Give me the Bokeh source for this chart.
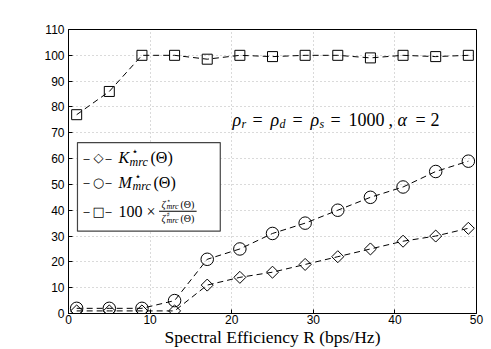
from bokeh.plotting import figure
from bokeh.models import Range1d, FixedTicker, Label, BoxAnnotation
from bokeh.embed import file_html
from bokeh.resources import INLINE

# ---- data ----
R = [1, 5, 9, 13, 17, 21, 25, 29, 33, 37, 41, 45, 49]
K_star = [1, 1, 1, 1, 11, 14, 16, 19, 22, 25, 28, 30, 33]
M_star = [2, 2, 2, 5, 21, 25, 31, 35, 40, 45, 49, 55, 59]
ratio = [77, 86, 100, 100, 98.5, 100, 99.5, 100, 100, 99, 100, 99.5, 100]
x_ticks = [0, 10, 20, 30, 40, 50]
y_ticks = [0, 10, 20, 30, 40, 50, 60, 70, 80, 90, 100, 110]

SERIF = "Liberation Serif"
SANS = "Liberation Sans"

p = figure(width=491, height=349, output_backend="svg", toolbar_location=None,
           x_range=Range1d(0, 50), y_range=Range1d(0, 110),
           min_border_left=68, min_border_right=15, min_border_top=29, min_border_bottom=34)
p.background_fill_color = "white"
p.border_fill_color = "white"
p.outline_line_color = "black"
p.outline_line_width = 1
p.outline_line_alpha = 1

for ax in (p.xaxis, p.yaxis):
    ax.axis_line_color = "black"
    ax.major_tick_in = 4
    ax.major_tick_out = 0
    ax.minor_tick_line_color = None
    ax.major_tick_line_color = "black"
    ax.major_label_text_font = SANS
    ax.major_label_text_font_size = "12px"
    ax.major_label_text_color = "black"
p.xaxis.ticker = FixedTicker(ticks=x_ticks)
p.yaxis.ticker = FixedTicker(ticks=y_ticks)
p.xaxis.major_label_standoff = 1
p.yaxis.major_label_standoff = 4
p.xaxis.axis_label = "Spectral Efficiency R (bps/Hz)"
p.xaxis.axis_label_text_font = SERIF
p.xaxis.axis_label_text_font_style = "normal"
p.xaxis.axis_label_text_font_size = "17.5px"
p.xaxis.axis_label_text_color = "black"
p.xaxis.axis_label_standoff = 0

for g in (p.xgrid, p.ygrid):
    g.grid_line_color = "#b4b4b4"
    g.grid_line_dash = "1 3"
    g.grid_line_width = 1
p.xgrid.ticker = FixedTicker(ticks=x_ticks)
p.ygrid.ticker = FixedTicker(ticks=y_ticks)

DASH = "6 4"
p.line(R, K_star, line_color="black", line_width=1, line_dash=DASH)
p.scatter(R, K_star, marker="square", angle=0.785398, size=8.5, fill_color=None,
          line_color="black", line_width=1)
p.line(R, M_star, line_color="black", line_width=1, line_dash=DASH)
p.scatter(R, M_star, marker="circle", size=12.5, fill_color=None, line_color="black", line_width=1)
p.line(R, ratio, line_color="black", line_width=1, line_dash=DASH)
p.scatter(R, ratio, marker="square", size=10, fill_color=None, line_color="black", line_width=1)

# legend box
p.add_layout(BoxAnnotation(left=1.1, right=18.6, bottom=31.9, top=66.2,
                           fill_color="white", fill_alpha=1,
                           line_color="#444444", line_width=1.2, line_alpha=1))


def put(x, y, text, dx=0, dy=0, size=15, style="normal", font=SERIF, align="left"):
    p.add_layout(Label(x=x, y=y, x_offset=dx, y_offset=-dy, text=text,
                       text_font=font, text_font_size=f"{size}px", text_font_style=style,
                       text_baseline="middle", text_align=align, text_color="black"))


# legend entries
LX = 6.13
rows = [60.4, 50.8, 39.6]
symbols = ["\u25c7", "\u25cb", "\u25a1"]
for yrow, sym in zip(rows, symbols):
    put(LX, yrow, "\u2013", -35, 0, 11, font=SANS)
    put(LX, yrow, sym, -20, 0, 13, font="DejaVu Sans", align="center")
    put(LX, yrow, "\u2013", -13, 0, 11, font=SANS)

put(LX, rows[0], "K", 0, 0, 16, "italic")
put(LX, rows[0], "\u22c6", 13, -6, 11, font="DejaVu Sans")
put(LX, rows[0], "mrc", 11, 4, 12, "italic")
put(LX, rows[0], "(\u0398)", 32, 0, 16)

put(LX, rows[1], "M", 0, 0, 16, "italic")
put(LX, rows[1], "\u22c6", 16, -6, 11, font="DejaVu Sans")
put(LX, rows[1], "mrc", 14, 4, 12, "italic")
put(LX, rows[1], "(\u0398)", 35, 0, 16)

put(LX, rows[2], "100 \u00d7", 0, 0, 16)
put(LX, rows[2], "\u03b6", 43, -7, 10, "italic")
put(LX, rows[2], "\u22c6", 48, -10, 7, font="DejaVu Sans")
put(LX, rows[2], "mrc", 48, -5, 8, "italic")
put(LX, rows[2], "(\u0398)", 62, -7, 10)
put(LX, rows[2], "\u03b6", 43, 7, 10, "italic")
put(LX, rows[2], "\u266f", 48, 4, 7, font="DejaVu Sans")
put(LX, rows[2], "mrc", 48, 9, 8, "italic")
put(LX, rows[2], "(\u0398)", 62, 7, 10)
p.add_layout(BoxAnnotation(left=11.1, right=15.7, bottom=rows[2] - 0.15, top=rows[2] + 0.15,
                           fill_color="black", fill_alpha=1, line_color=None))

# annotation
AX, AY = 20.1, 75.0
put(AX, AY, "\u03c1", 0, 0, 18, "italic")
put(AX, AY, "r", 9, 4, 12, "italic")
put(AX, AY, "=", 20, 0, 18)
put(AX, AY, "\u03c1", 38, 0, 18, "italic")
put(AX, AY, "d", 47, 4, 12, "italic")
put(AX, AY, "=", 60, 0, 18)
put(AX, AY, "\u03c1", 78, 0, 18, "italic")
put(AX, AY, "s", 87, 4, 12, "italic")
put(AX, AY, "=", 98, 0, 18)
put(AX, AY, "1000", 116, 0, 18)
put(AX, AY, ",", 156, 0, 18)
put(AX, AY, "\u03b1", 165, 0, 18, "italic")
put(AX, AY, "=", 183, 0, 18)
put(AX, AY, "2", 198, 0, 18)

open("out.html", "w").write(file_html(p, INLINE))
